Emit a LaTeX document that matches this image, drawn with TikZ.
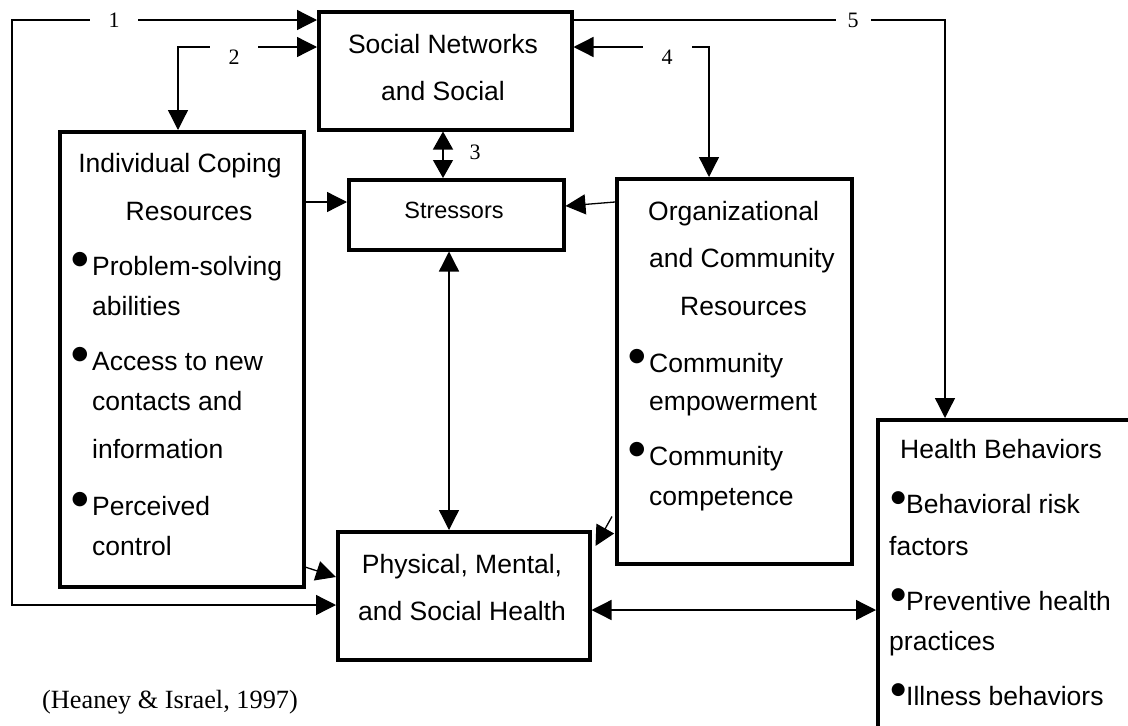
\documentclass[tikz,border=0pt]{standalone}
\usepackage{fontspec}
\setmainfont{Liberation Sans}
\newfontfamily\seriffam{Liberation Serif}
\newfontfamily\dvfam{DejaVu Sans}
\usetikzlibrary{arrows.meta,calc}
\newcommand\bul{\makebox[0pt][r]{\raisebox{10.5pt}{\dvfam\fontsize{19}{19}\selectfont ●}\hspace{4pt}}}
\newcommand\bulh{\makebox[0pt][r]{\raisebox{10.5pt}{\dvfam\fontsize{17}{17}\selectfont ●}\hspace{0.5pt}}}
\tikzset{
  box/.style={draw, line width=3.5pt, inner sep=0pt, anchor=north west, rectangle},
  txt/.style={inner sep=0pt, anchor=base west, font=\fontsize{26.5}{30}\selectfont},
  ctxt/.style={inner sep=0pt, anchor=base, font=\fontsize{26.5}{30}\selectfont},
  lbl/.style={fill=white, inner sep=0pt, minimum height=30pt, font=\seriffam\fontsize{22}{24}\selectfont},
  arr/.style={line width=1.3pt, -{Triangle[length=20pt,width=20pt]}},
  darr/.style={line width=1.3pt, {Triangle[length=20pt,width=20pt]}-{Triangle[length=20pt,width=20pt]}},
  sdarr/.style={line width=1.3pt, {Triangle[length=18pt,width=20pt]}-{Triangle[length=18pt,width=20pt]}}
}
\begin{document}
\begin{tikzpicture}[x=1pt,y=-1pt]
\useasboundingbox (0,0) rectangle (1128,726);
% boxes
\node[box, minimum width=253pt, minimum height=118pt] (soc) at (317,10) {};
\node[box, minimum width=244pt, minimum height=455pt] (ind) at (58,130) {};
\node[box, minimum width=215pt, minimum height=70pt] (str) at (347,178) {};
\node[box, minimum width=235pt, minimum height=385pt] (org) at (615,177) {};
\node[box, minimum width=252pt, minimum height=128pt] (phys) at (336,530) {};
\node[box, minimum width=300pt, minimum height=330pt] (hb) at (876,418) {};
% texts
\node[ctxt] (socA) at (443,53) {Social Networks};
\node[ctxt] (socB) at (443,100) {and Social};
\node[ctxt, font=\fontsize{23.5}{26}\selectfont] (strA) at (454,218) {Stressors};
\node[ctxt] (indA) at (180,172) {Individual Coping};
\node[ctxt] (indB) at (189,220) {Resources};
\node[txt] (indC) at (92,275) {\bul Problem-solving};
\node[txt] (indD) at (92,315) {abilities};
\node[txt] (indE) at (92,370) {\bul Access to new};
\node[txt] (indF) at (92,410) {contacts and};
\node[txt] (indG) at (92,458) {information};
\node[txt] (indH) at (92,515) {\bul Perceived};
\node[txt] (indI) at (92,555) {control};
\node[txt] (orgA) at (648,220) {Organizational};
\node[txt] (orgB) at (649,267) {and Community};
\node[txt] (orgC) at (680,315) {Resources};
\node[txt] (orgD) at (649,372) {\bul Community};
\node[txt] (orgE) at (649,410) {empowerment};
\node[txt] (orgF) at (649,465) {\bul Community};
\node[txt] (orgG) at (649,505) {competence};
\node[ctxt] (physA) at (462,573) {Physical, Mental,};
\node[ctxt] (physB) at (462,620) {and Social Health};
\node[txt] (hbA) at (900,458) {Health Behaviors};
\node[txt] (hbB) at (906,513) {\bulh Behavioral risk};
\node[txt] (hbC) at (889,555) {factors};
\node[txt] (hbD) at (906,610) {\bulh Preventive health};
\node[txt] (hbE) at (889,650) {practices};
\node[txt] (hbF) at (906,705) {\bulh Illness behaviors};
\node[txt, font=\seriffam\fontsize{26.3}{30}\selectfont] (cite) at (42,708) {(Heaney \& Israel, 1997)};
% connectors
\coordinate (c1a) at (12,20);
\coordinate (c1b) at (12,605);
\draw[darr] ($(soc.north west)+(0,10)$) -- (c1a) -- (c1b) -- ($(phys.north west)+(0,75)$);
\draw[darr] ($(soc.north west)+(0,37)$) -| ($(ind.north west)+(120,0)$);
\draw[sdarr] ($(soc.south west)+(126,0)$) -- ($(str.north west)+(96,0)$);
\draw[darr] ($(soc.north east)+(0,37)$) -| ($(org.north west)+(94,0)$);
\draw[arr] ($(soc.north east)+(0,10)$) -| ($(hb.north west)+(69,0)$);
\draw[arr] ($(ind.north east)+(0,72)$) -- ($(str.north west)+(0,24)$);
\draw[arr] ($(org.north west)+(0,25)$) -- ($(str.north east)+(0,28)$);
\draw[darr] ($(str.south west)+(102,0)$) -- ($(phys.north west)+(113,0)$);
\draw[arr] ($(ind.south east)+(-2,-22)$) -- ($(phys.north west)+(0,47)$);
\draw[arr] ($(org.south west)+(-3,-49)$) -- ($(phys.north east)+(4,16)$);
\draw[darr] ($(phys.north east)+(0,80)$) -- ($(hb.north west)+(0,192)$);
% labels
\node[lbl, minimum width=48pt] (l1) at (114,20) {1};
\node[lbl, minimum width=48pt] (l2) at (234,57) {2};
\node[font=\seriffam\fontsize{22}{24}\selectfont, inner sep=0pt] (l3) at (475,152) {3};
\node[lbl, minimum width=49pt] (l4) at (667,57) {4};
\node[lbl, minimum width=35pt] (l5) at (853,20) {5};
\end{tikzpicture}
\end{document}
